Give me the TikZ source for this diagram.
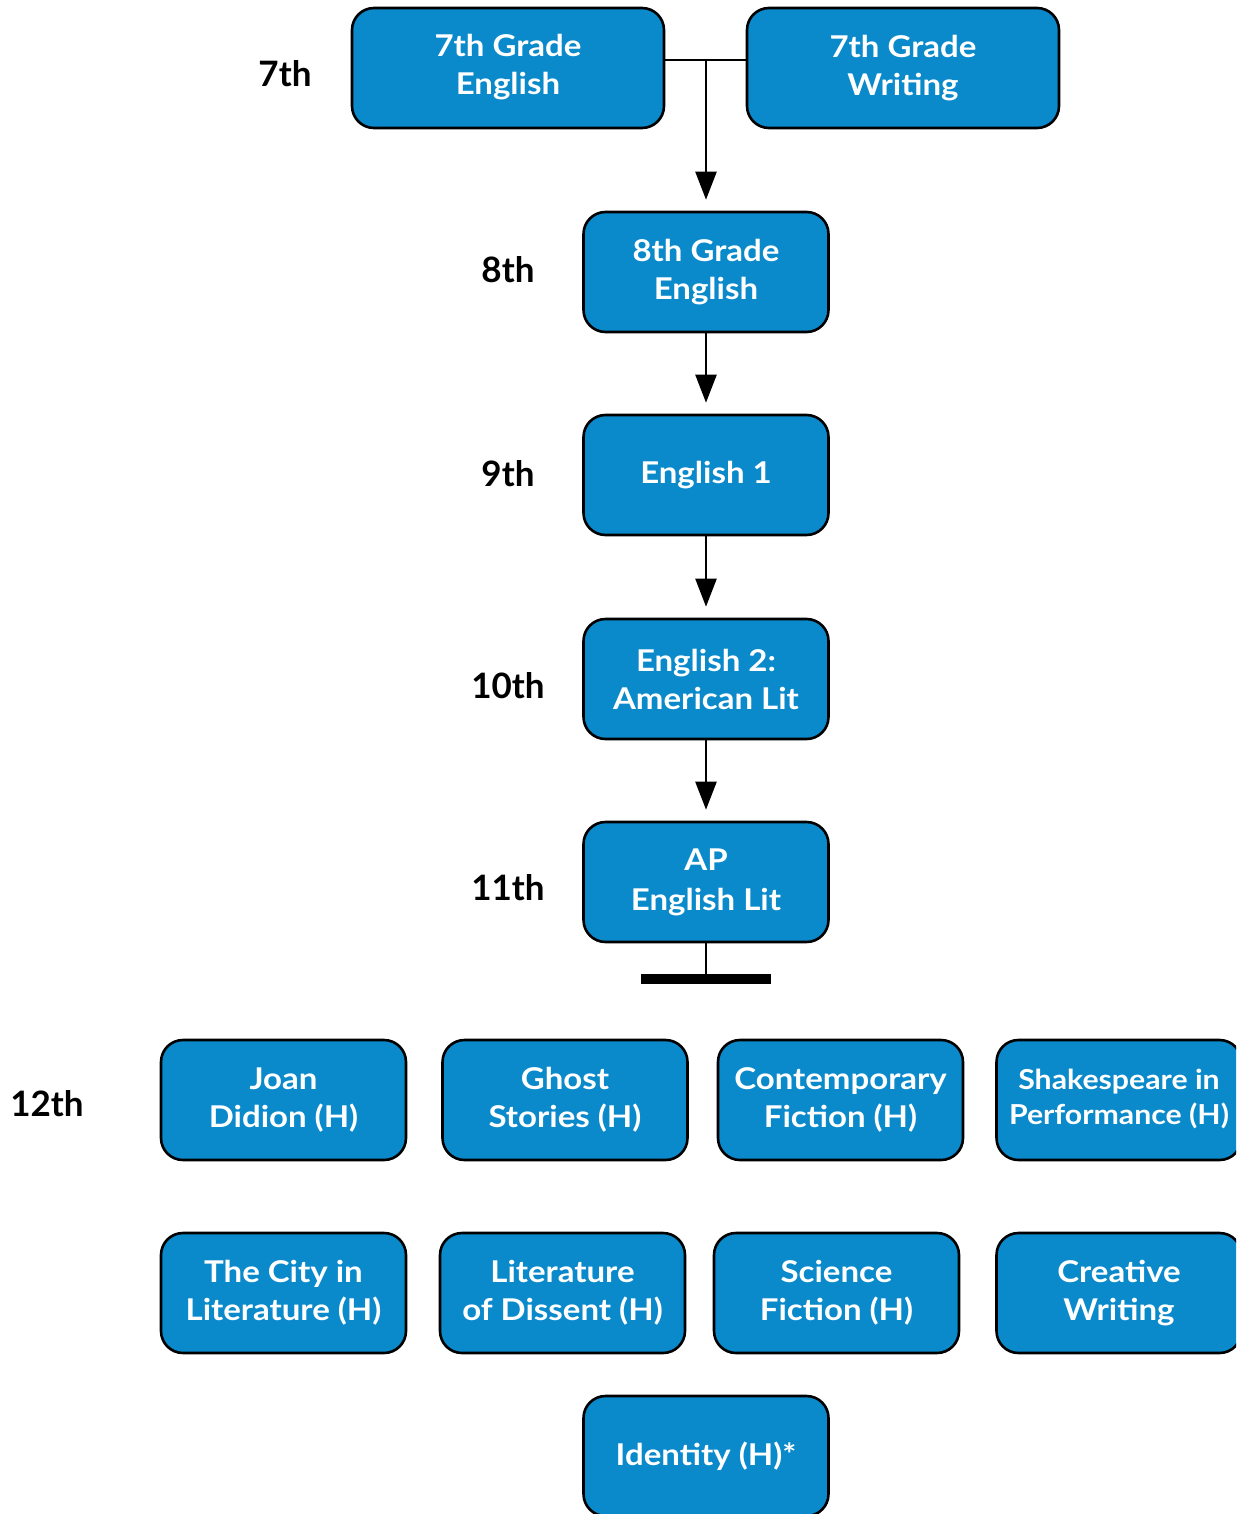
\documentclass[tikz,border=0pt]{standalone}
\usepackage{fontspec}
\setmainfont{Lato}
\newfontfamily\boxfont{Lato}[FakeStretch=1.1]
\usetikzlibrary{arrows.meta}
\definecolor{boxblue}{HTML}{0A8ACB}
\begin{document}
\begin{tikzpicture}[x=1pt,y=-1pt,
  course/.style={draw=black, line width=2.6pt, fill=boxblue, rounded corners=22pt,
    minimum width=245pt, minimum height=120pt, text=white, align=center,
    font=\boxfont\fontsize{30}{38}\selectfont\bfseries, inner sep=0pt},
  small/.style={font=\boxfont\fontsize{27.5}{35}\selectfont\bfseries},
  grade/.style={font=\fontsize{35}{40}\selectfont\bfseries, text=black, inner sep=0pt},
  link/.style={line width=2.4pt},
  arr/.style={line width=2.4pt, -{Triangle[length=28pt,width=21pt]}, shorten >=11pt},
]
\useasboundingbox (0,0) rectangle (1236,1514);
\clip (0,0) rectangle (1236,1514);

% grade labels
\node[grade] (l7) at (285,74) {7th};
\node[grade] (l8) at (508,270) {8th};
\node[grade] (l9) at (508,474) {9th};
\node[grade] (l10) at (508,686) {10th};
\node[grade] (l11) at (508,888) {11th};
\node[grade] (l12) at (47,1104) {12th};

% spine
\node[course, minimum width=312pt] (g7e) at (508,68) {\raisebox{3pt}{\begin{tabular}{@{}c@{}}7th Grade\\English\end{tabular}}};
\node[course, minimum width=312pt] (g7w) at (903,68) {7th Grade\\Writing};
\node[course] (g8) at (706,272) {8th Grade\\English};
\node[course] (e1) at (706,475) {English 1};
\node[course] (e2) at (706,679) {English 2:\\American Lit};
\node[course] (ap) at (706,882) {AP\\[2pt]English Lit};

% 12th grade electives
\node[course] (joan) at (283.5,1100) {Joan\\Didion (H)};
\node[course] (ghost) at (565,1100) {Ghost\\Stories (H)};
\node[course] (contemp) at (840.5,1100) {Contemporary\\Fiction (H)};
\node[course, small] (shakes) at (1119,1100) {\raisebox{3pt}{\begin{tabular}{@{}c@{}}Shakespeare in\\Performance (H)\end{tabular}}};
\node[course] (city) at (283.5,1293) {The City in\\Literature (H)};
\node[course] (dissent) at (562.5,1293) {Literature\\of Dissent (H)};
\node[course] (scifi) at (836.5,1293) {Science\\Fiction (H)};
\node[course] (creative) at (1119,1293) {Creative\\Writing};
\node[course] (identity) at (706,1456) {Identity (H)*};

% bar
\node[fill=black, minimum width=130pt, minimum height=10pt, inner sep=0pt] (bar) at (706,979) {};

% connectors
\coordinate (j) at (706,60);
\draw[link] (g7e.east |- j) -- (g7w.west |- j);
\draw[arr] (j) -- (g8.north);
\draw[arr] (g8.south) -- (e1.north);
\draw[arr] (e1.south) -- (e2.north);
\draw[arr] (e2.south) -- (ap.north);
\draw[link] (ap.south) -- (bar.north);
\end{tikzpicture}
\end{document}
